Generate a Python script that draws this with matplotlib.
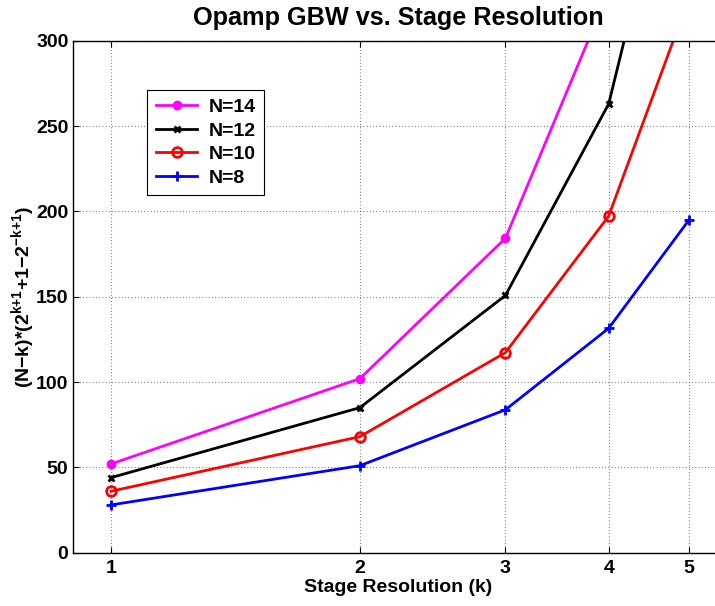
import matplotlib
matplotlib.use("Agg")
import matplotlib.pyplot as plt
from matplotlib.ticker import FixedLocator, NullLocator, FixedFormatter

plt.rcParams['font.family'] = ['Liberation Sans', 'DejaVu Sans']
plt.rcParams['font.weight'] = 'bold'
plt.rcParams['mathtext.fontset'] = 'custom'
plt.rcParams['mathtext.rm'] = 'Liberation Sans:bold'
plt.rcParams['mathtext.bf'] = 'Liberation Sans:bold'
plt.rcParams['mathtext.it'] = 'Liberation Sans:bold'
plt.rcParams['mathtext.default'] = 'bf'

# Stage resolution k and GBW factor values
k_values = [1, 2, 3, 4, 5]
n14_values = [52, 102, 184.25, 328.75, 584.44]
n12_values = [44, 85, 150.75, 263, 454.56]
n10_values = [36, 68, 117.25, 197.25, 324.69]
n8_values = [28, 51, 83.75, 131.5, 194.81]
y_ticks = [0, 50, 100, 150, 200, 250, 300]

fig = plt.figure(figsize=(7.15, 6.06), dpi=100)
# axes box runs slightly past the right edge of the picture, as in the original
ax = fig.add_axes([73.3 / 715, (606 - 552.7) / 606, (723 - 73.3) / 715, 512 / 606])

ax.plot(k_values, n14_values, color='#ff00ff', linewidth=2, marker='o',
        markersize=6, label='N=14')
ax.plot(k_values, n12_values, color='black', linewidth=2, marker='x',
        markersize=5, markeredgewidth=2, label='N=12')
ax.plot(k_values, n10_values, color='red', linewidth=2, marker='o',
        markersize=7, markerfacecolor='none', markeredgewidth=2, label='N=10')
ax.plot(k_values, n8_values, color='blue', linewidth=2, marker='+',
        markersize=7, markeredgewidth=2, label='N=8')

ax.set_xscale('log')
ax.set_xlim(0.9, 5.5)
ax.set_ylim(0, 300)
ax.xaxis.set_major_locator(FixedLocator(k_values))
ax.xaxis.set_major_formatter(FixedFormatter([str(k) for k in k_values]))
ax.xaxis.set_minor_locator(NullLocator())
ax.set_yticks(y_ticks)

ax.tick_params(axis='both', which='major', direction='in', length=4.5, width=0.8,
               labelsize=14, top=True, right=True)
ax.tick_params(axis='x', pad=5)
ax.tick_params(axis='y', pad=3.5)
for lbl in ax.get_xticklabels() + ax.get_yticklabels():
    lbl.set_fontweight('bold')

ax.grid(True, color='0.35', linestyle=(0, (0.7, 2.2)), linewidth=0.8)
for sp in ax.spines.values():
    sp.set_linewidth(1.0)

ax.set_title('Opamp GBW vs. Stage Resolution', fontsize=18.2, fontweight='bold', pad=11)
ax.set_xlabel('Stage Resolution (k)', fontsize=14, fontweight='bold', labelpad=2)
ax.set_ylabel('(N\u2212k)*(2$^{k{+}1}$+1\u22122$^{{-}k{+}1}$)', fontsize=14,
              fontweight='bold')
ax.yaxis.set_label_coords(-0.056, 0.5)

leg = ax.legend(loc='upper left', bbox_to_anchor=(0.114, 0.904), borderaxespad=0,
                fancybox=False, edgecolor='black', framealpha=1,
                handlelength=2.1, handletextpad=0.6, labelspacing=0.3,
                borderpad=0.45, prop={'weight': 'bold', 'size': 14})
leg.get_frame().set_linewidth(0.8)

fig.savefig('out.png', dpi=100)
